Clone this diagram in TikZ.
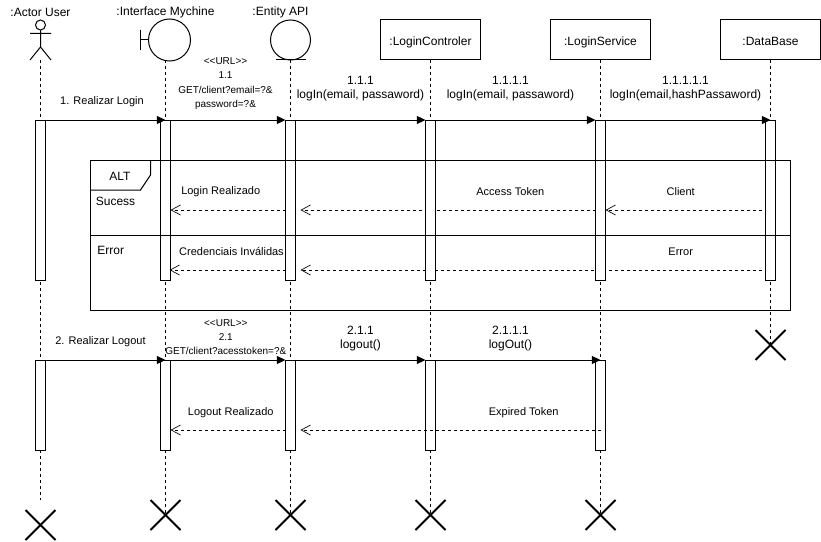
\documentclass[tikz,border=0pt]{standalone}
\usepackage{fontspec}
\setmainfont{Liberation Sans}
\usetikzlibrary{arrows.meta,shapes.misc}

\tikzset{
  headbox/.style={draw, rectangle, minimum width=75pt, minimum height=30pt, inner sep=0pt, outer sep=0pt, text height=8pt, text depth=0pt, font=\fontsize{9}{10.5}\selectfont},
  headtext/.style={inner sep=0pt, font=\fontsize{9}{10.5}\selectfont},
  headcircle/.style={draw, circle, inner sep=0pt, outer sep=0pt},
  actlong/.style={draw, fill=white, rectangle, minimum width=7.5pt, minimum height=120pt, inner sep=0pt, outer sep=0pt},
  actshort/.style={actlong, minimum height=67.5pt},
  killmark/.style={draw, cross out, line width=1.5pt, minimum size=22.5pt, inner sep=0pt, outer sep=0pt},
  lifeline/.style={dash pattern=on 2.25pt off 2.25pt},
  call/.style={-{Triangle[length=6.5pt,width=6pt]}},
  reply/.style={dash pattern=on 2.25pt off 2.25pt, -{Straight Barb[length=7pt,width=7.5pt,line width=0.5pt]}},
  msg/.style={inner sep=0pt, align=center, font=\fontsize{9}{10.5}\selectfont},
  small/.style={inner sep=0pt, align=center, font=\fontsize{8.25}{10}\selectfont},
  url/.style={inner sep=0pt, align=center, font=\fontsize{7.5}{10.75}\selectfont}
}

\begin{document}
\begin{tikzpicture}[x=0.75pt, y=-0.75pt, line width=0.75pt]
\useasboundingbox (0,0) rectangle (821,542);

\node[headtext] (actorname) at (40.5,12) {:Actor User};
\node[headtext] (ifacename) at (165.5,12) {:Interface Mychine};
\node[headtext] (entityname) at (280.5,12) {:Entity API};

\node[headcircle, minimum size=7.5pt] (actor) at (40.5,25) {};
\node[headcircle, minimum size=31.5pt] (iface) at (169.5,40) {};
\node[headcircle, minimum size=30pt] (entity) at (290.5,40) {};
\node[headbox] (ctrl) at (430.5,40) {:LoginControler};
\node[headbox] (svc) at (600.5,40) {:LoginService};
\node[headbox] (db) at (770.5,40) {:DataBase};

\draw (actor.south) -- (40.5,47) (30,33.5) -- (51,33.5) (30,60) -- (40.5,47) -- (51,60);
\draw (iface.west) -- (140.5,40) (140.5,30) -- (140.5,50);
\draw (275.5,60) -- (305.5,60);

\coordinate (actorfoot) at (40.5,60);
\coordinate (ifacefoot) at (165.5,60);
\coordinate (actorend) at (40.5,500);
\coordinate (okrow) at (0,210);
\coordinate (errrow) at (0,270);
\coordinate (outrow) at (0,430);

\node[killmark] (xactor) at (40.5,525) {};
\node[killmark] (xiface) at (165.5,515) {};
\node[killmark] (xentity) at (290.5,515) {};
\node[killmark] (xctrl) at (430.5,515) {};
\node[killmark] (xsvc) at (600.5,515) {};
\node[killmark] (xdb) at (770.5,345) {};

\draw[lifeline] (actorfoot) -- (actorend);
\draw[lifeline] (ifacefoot) -- (xiface.center);
\draw[lifeline] (entity.south) -- (xentity.center);
\draw[lifeline] (ctrl.south) -- (xctrl.center);
\draw[lifeline] (svc.south) -- (xsvc.center);
\draw[lifeline] (db.south) -- (xdb.center);

\node[actlong] (actorA) at (40.5,200) {};
\node[actlong] (ifaceA) at (165.5,200) {};
\node[actlong] (entityA) at (290.5,200) {};
\node[actlong] (ctrlA) at (430.5,200) {};
\node[actlong] (svcA) at (600.5,200) {};
\node[actlong] (dbA) at (770.5,200) {};

\node[actshort] (actorB) at (40.5,405) {};
\node[actshort] (ifaceB) at (165.5,405) {};
\node[actshort] (entityB) at (290.5,405) {};
\node[actshort] (ctrlB) at (430.5,405) {};
\node[actshort] (svcB) at (600.5,405) {};

\draw[reply] (entityA.west |- okrow) -- (ifaceA.east |- okrow);
\draw[reply] (svcA.west |- okrow) -- ([xshift=3.75pt]entityA.east |- okrow);
\draw[reply] ([xshift=-3pt]dbA.west |- okrow) -- (svcA.east |- okrow);
\draw[reply] (entityA.west |- errrow) -- ([xshift=-0.75pt]ifaceA.east |- errrow);
\draw[reply] ([xshift=-3pt]dbA.west |- errrow) -- ([xshift=3.75pt]entityA.east |- errrow);
\node[actlong] (ctrlcover) at (430.5,200) {};
\node[actlong] (svccover) at (600.5,200) {};
\draw[reply] (entityB.west |- outrow) -- (ifaceB.east |- outrow);
\draw[reply] (svcB.center |- outrow) -- ([xshift=3.75pt]entityB.east |- outrow);

\draw[call] (actorA.north east) -- (ifaceA.north);
\draw[call] (ifaceA.north east) -- (entityA.north west);
\draw[call] (entityA.north east) -- (ctrlA.north west);
\draw[call] (ctrlA.north east) -- (svcA.north west);
\draw[call] (svcA.north east) -- (dbA.north);

\draw[call] (actorB.north east) -- (ifaceB.north);
\draw[call] (ifaceB.north east) -- (entityB.north west);
\draw[call] (entityB.north east) -- (ctrlB.north west);
\draw[call] (ctrlB.north east) -- (svcB.north);

\node[draw, rectangle, minimum width=525pt, minimum height=112.5pt, inner sep=0pt, outer sep=0pt] (altframe) at (440.5,235) {};
\draw (altframe.west) -- (altframe.east);
\draw (150.5,160) -- (150.5,175) -- (140.5,190) -- (90.5,190);

\node[headtext] (alttext) at (120,176) {ALT};
\node[headtext] (sucess) at (115.5,201) {Sucess};
\node[headtext] (error) at (110.7,250.5) {Error};

\node[small] (login) at (102,101.5) {1. Realizar Login};
\node[url] (geturl) at (225.5,83.5) {<{}<URL>{}>\\1.1\\GET/client?email=?\&\\password=?\&};
\node[msg] (call1) at (360.5,88.5) {1.1.1\\logIn(email, passaword)};
\node[msg] (call2) at (510.5,88.5) {1.1.1.1\\logIn(email, passaword)};
\node[msg] (call3) at (685.5,88.5) {1.1.1.1.1\\logIn(email,hashPassaword)};

\node[small] (okiface) at (220.7,192) {Login Realizado};
\node[small] (oktoken) at (510.3,192) {Access Token};
\node[small] (okclient) at (680.7,192) {Client};
\node[small] (erriface) at (231.5,252) {Credenciais Inválidas};
\node[small] (errdb) at (680.7,252) {Error};

\node[small] (logout) at (100.5,341.5) {2. Realizar Logout};
\node[url] (outurl) at (225.8,337) {<{}<URL>{}>\\2.1\\GET/client?acesstoken=?\&};
\node[msg] (out1) at (360.5,338.5) {2.1.1\\logout()};
\node[msg] (out2) at (510.5,338.5) {2.1.1.1\\logOut()};
\node[small] (outiface) at (230.7,412.5) {Logout Realizado};
\node[small] (outtoken) at (523.7,412.5) {Expired Token};
\end{tikzpicture}
\end{document}
